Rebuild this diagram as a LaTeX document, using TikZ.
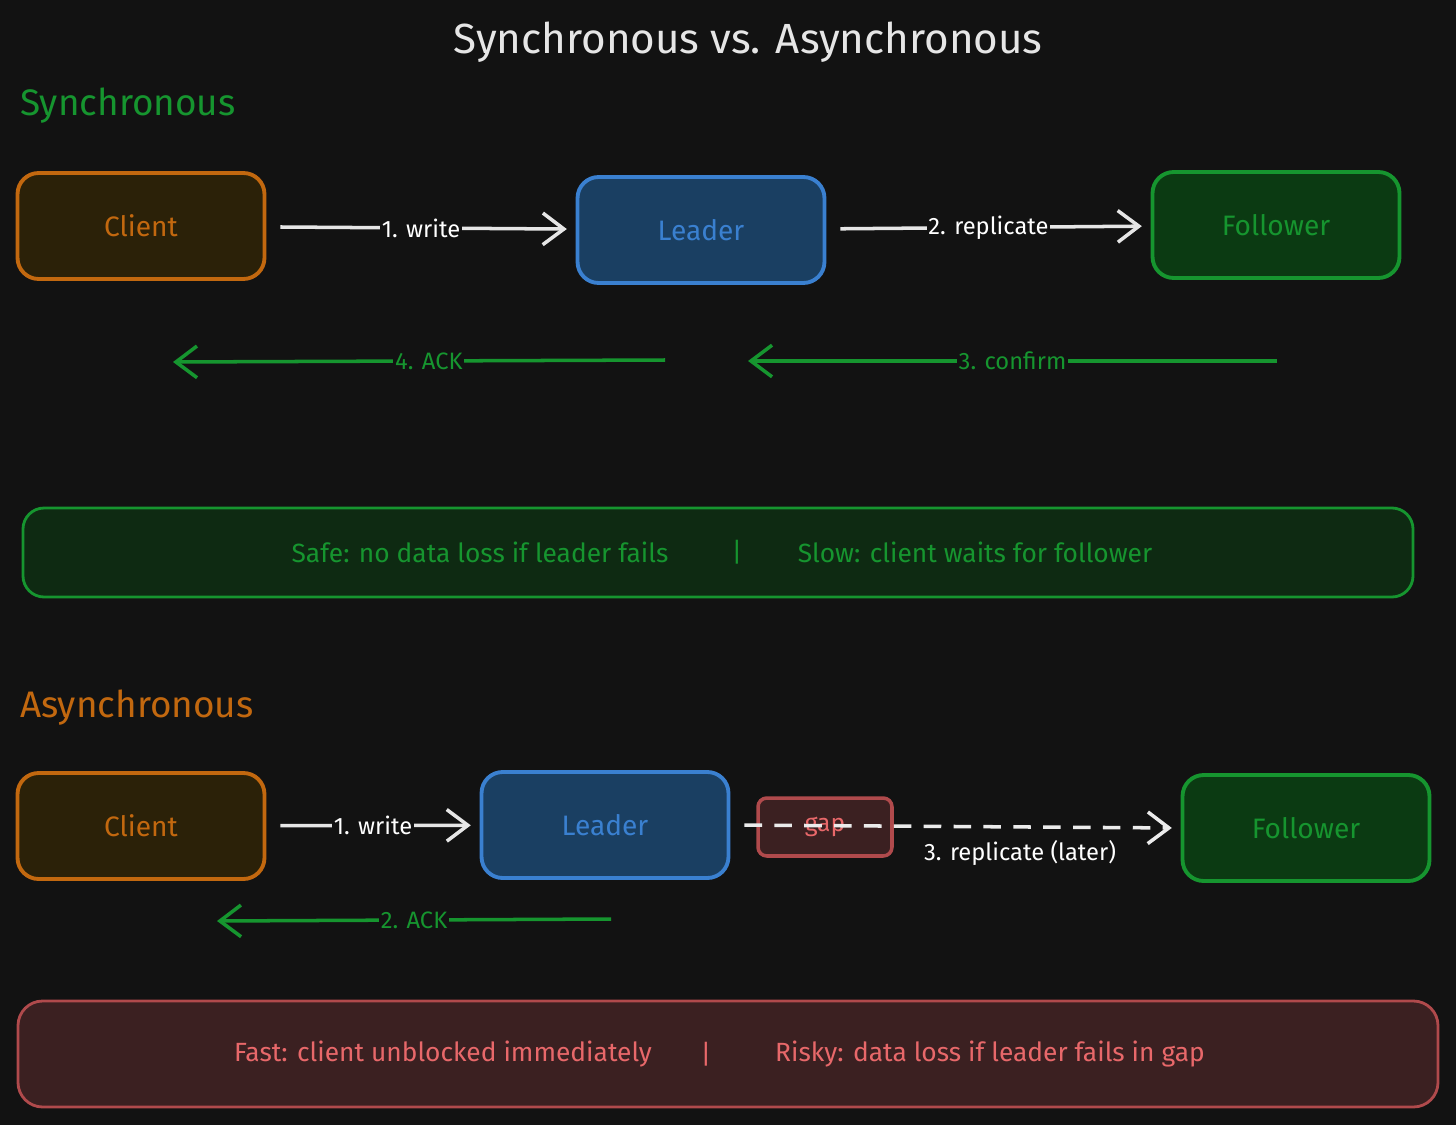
\documentclass[tikz,border=0pt]{standalone}
\usepackage{fontspec}
\setmainfont{Fira Sans}
\usetikzlibrary{arrows.meta,positioning}
\definecolor{bgc}{HTML}{121212}
\definecolor{orstroke}{HTML}{C2680F}
\definecolor{orfill}{HTML}{2B2108}
\definecolor{blstroke}{HTML}{3A80D0}
\definecolor{blfill}{HTML}{1A3F62}
\definecolor{grstroke}{HTML}{16952F}
\definecolor{grfill}{HTML}{0B3A12}
\definecolor{rdstroke}{HTML}{B04A4C}
\definecolor{rdfill}{HTML}{3B2021}
\definecolor{rdtext}{HTML}{E8686A}
\definecolor{wline}{HTML}{E6E6E6}
\tikzset{
  box/.style={draw, line width=2.2pt, rounded corners=12pt, minimum width=4.94cm, minimum height=2.12cm, font=\fontsize{16}{18}\selectfont},
  client/.style={box, draw=orstroke, fill=orfill, text=orstroke},
  leader/.style={box, draw=blstroke, fill=blfill, text=blstroke},
  follower/.style={box, draw=grstroke, fill=grfill, text=grstroke},
  msg/.style={line width=2pt, shorten <=8pt, shorten >=5pt, -{Straight Barb[length=12pt,width=18pt,line width=2pt]}},
  lbl/.style={fill=bgc, inner sep=1pt, font=\fontsize{13.5}{15}\selectfont},
}
\begin{document}
\begin{tikzpicture}[x=0.02cm, y=-0.02cm]
  \fill[bgc] (0,0) rectangle (1456,1125);

  % titles
  \node[text=wline, font=\fontsize{24}{26}\selectfont] (title) at (748,42) {Synchronous vs. Asynchronous};
  \node[text=grstroke, anchor=west, font=\fontsize{21}{22}\selectfont] (synct) at (14,106) {Synchronous};

  % --- synchronous ---
  \node[client] (sclient) at (141,226) {Client};
  \node[leader] (sleader) at (701,230) {Leader};
  \node[follower] (sfollow) at (1276,225) {Follower};
  \draw[msg, wline] (sclient) -- (sleader) node[lbl, midway, text=white] {1. write};
  \draw[msg, wline] (sleader) -- (sfollow) node[lbl, midway, text=white] {2. replicate};

  \coordinate (ackfrom) at (665,360);
  \coordinate (ackto) at (173,362);
  \coordinate (cnffrom) at (1277,361);
  \coordinate (cnfto) at (748,361);
  \draw[msg, grstroke, shorten <=0pt, shorten >=0pt] (ackfrom) -- (ackto) node[lbl, pos=0.48, text=grstroke] {4. ACK};
  \draw[msg, grstroke, shorten <=0pt, shorten >=0pt] (cnffrom) -- (cnfto) node[lbl, pos=0.5, text=grstroke] {3. confirm};

  \draw[grstroke, fill=grfill!60!bgc, line width=1.6pt, rounded corners=12pt] (23,508) rectangle (1413,597);
  \begin{scope}[every node/.style={text=grstroke, font=\fontsize{15}{17}\selectfont}]
    \node (safe) at (480,552) {Safe: no data loss if leader fails};
    \node (sbar) at (737,552) {|};
    \node (slow) at (975,552) {Slow: client waits for follower};
  \end{scope}

  % --- asynchronous ---
  \node[text=orstroke, anchor=west, font=\fontsize{21}{22}\selectfont] (asynct) at (14,708) {Asynchronous};
  \node[client] (aclient) at (141,826) {Client};
  \node[leader] (aleader) at (605,825) {Leader};
  \node[follower] (afollow) at (1306,828) {Follower};
  \draw[msg, wline] (aclient) -- (aleader) node[lbl, midway, text=white] {1. write};
  \node[draw=rdstroke, fill=rdfill, line width=2pt, rounded corners=5pt, minimum width=2.68cm, minimum height=1.16cm, text=rdtext, font=\fontsize{14}{16}\selectfont] (gap) at (825,827) {gap};
  \draw[msg, wline!80, dash pattern=on 10pt off 7pt] (aleader.east) -- (afollow.west);
  \node[text=white, font=\fontsize{13.5}{15}\selectfont] (later) at (1020,853) {3. replicate (later)};

  \coordinate (aackfrom) at (611,919);
  \coordinate (aackto) at (217,921);
  \draw[msg, grstroke, shorten <=0pt, shorten >=0pt] (aackfrom) -- (aackto) node[lbl, pos=0.5, text=grstroke] {2. ACK};

  \draw[rdstroke, fill=rdfill, line width=1.6pt, rounded corners=14pt] (18,1001) rectangle (1438,1107);
  \begin{scope}[every node/.style={text=rdtext, font=\fontsize{15}{17}\selectfont}]
    \node (fast) at (443,1054) {Fast: client unblocked immediately};
    \node (abar) at (706,1054) {|};
    \node (risky) at (990,1054) {Risky: data loss if leader fails in gap};
  \end{scope}
\end{tikzpicture}
\end{document}
